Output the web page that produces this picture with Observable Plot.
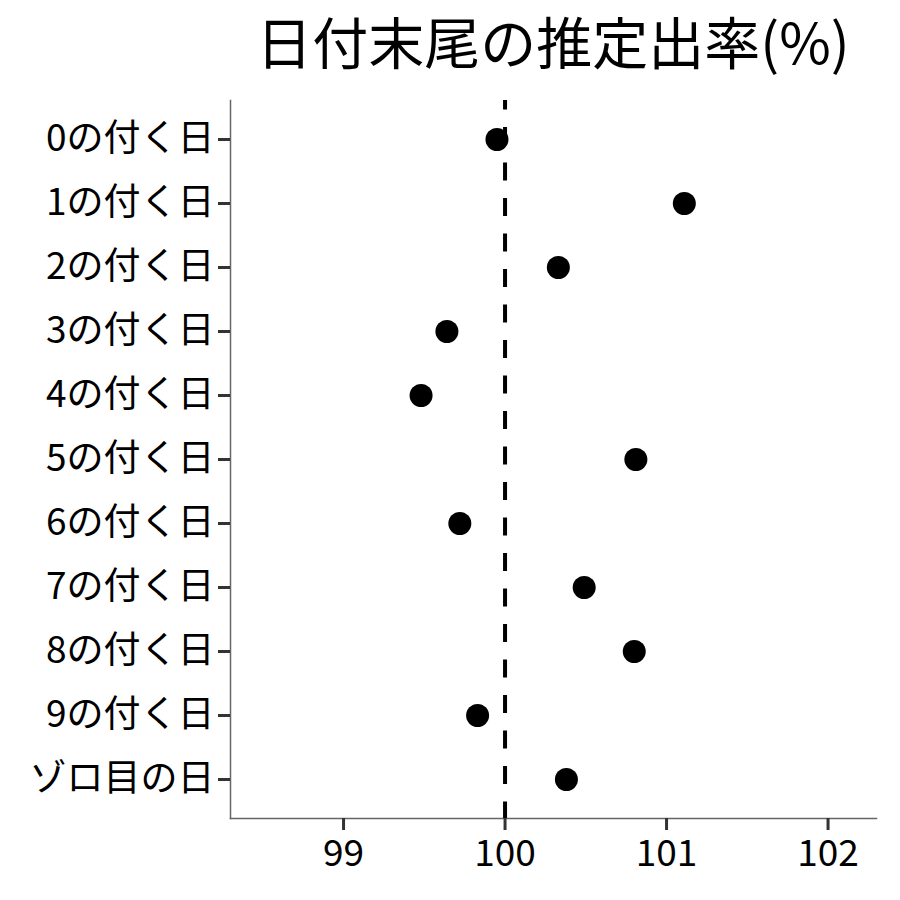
<!DOCTYPE html>
<html>
<head>
<meta charset="utf-8">
<script src="https://cdn.jsdelivr.net/npm/d3@7"></script>
<script src="https://cdn.jsdelivr.net/npm/@observablehq/plot@0.6"></script>
<style>
  html, body { margin: 0; padding: 0; background: #fff; }
  body { width: 900px; height: 900px; overflow: hidden; font-family: "Noto Sans CJK JP", "Noto Sans", sans-serif; }
  #title { margin-left: 230px; width: 646px; height: 92px; text-align: center; font-size: 56px; line-height: 79px; color: #000; white-space: nowrap; }
</style>
</head>
<body>
<div id="title">日付末尾の推定出率(%)</div>
<div id="chart"></div>
<script>
const categories = ["0の付く日","1の付く日","2の付く日","3の付く日","4の付く日","5の付く日","6の付く日","7の付く日","8の付く日","9の付く日","ゾロ目の日"];
const rates = [99.95, 101.11, 100.33, 99.64, 99.48, 100.81, 99.72, 100.49, 100.80, 99.83, 100.38];
const xTicks = [99, 100, 101, 102];
const xDomain = [98.3, 102.3];
const reference = [100];

const data = categories.map((c, i) => ({category: c, rate: rates[i]}));

const chart = Plot.plot({
  width: 900,
  height: 808,
  marginTop: 8,
  marginBottom: 82,
  marginLeft: 230,
  marginRight: 24,
  style: { fontFamily: '"Noto Sans CJK JP", "Noto Sans", sans-serif', background: "#fff", color: "#000" },
  x: { domain: xDomain, ticks: xTicks },
  y: { type: "point", domain: categories, padding: 0.6 },
  marks: [
    Plot.frame({anchor: "left", stroke: "#666", strokeWidth: 1.5}),
    Plot.frame({anchor: "bottom", stroke: "#666", strokeWidth: 1.5}),
    Plot.axisX({ticks: xTicks, tickFormat: d => String(d), tickSize: 12, tickPadding: 9, stroke: "#333", strokeWidth: 3, fontSize: 37, fill: "#000", label: null}),
    Plot.axisY({tickSize: 12, tickPadding: 4, stroke: "#333", strokeWidth: 3, fontSize: 37, fill: "#000", label: null}),
    Plot.ruleX(reference, {stroke: "#000", strokeWidth: 4, strokeDasharray: "18,17.5", strokeDashoffset: 8.5}),
    Plot.dot(data, {x: "rate", y: "category", r: 11.5, fill: "#000", stroke: "none"})
  ]
});
document.getElementById("chart").appendChild(chart);
</script>
</body>
</html>
